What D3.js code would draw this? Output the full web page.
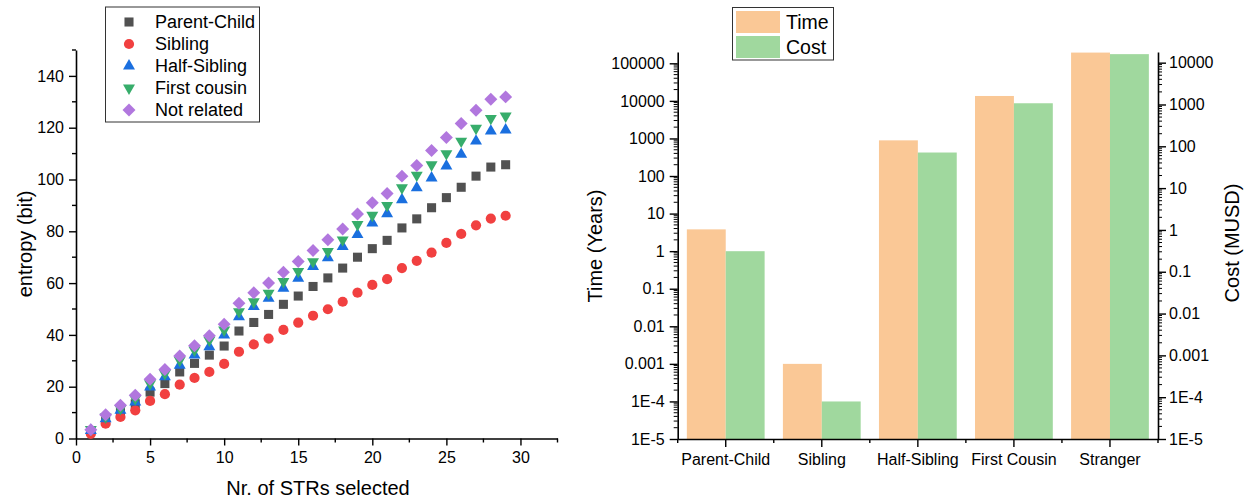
<!DOCTYPE html>
<html>
<head>
<meta charset="utf-8">
<script src="https://cdn.jsdelivr.net/npm/d3@7"></script>
<style>
  body { margin: 0; background: white; }
  svg { font-family: "Liberation Sans", Arial, sans-serif; }
</style>
</head>
<body>
<div id="chart"></div>
<script>
// ---- data: entropy vs number of STRs (left panel) ----
const strCount = [1, 2, 3, 4, 5, 6, 7, 8, 9, 10, 11, 12, 13, 14, 15, 16, 17, 18, 19, 20, 21, 22, 23, 24, 25, 26, 27, 28, 29];
const parentChild = [3, 7, 10, 13.4, 17.9, 21.2, 25.7, 29, 32.2, 35.7, 41.5, 44.8, 47.9, 51.8, 55, 58.7, 62, 65.8, 70, 73.3, 76.5, 81.3, 84.8, 89.1, 93, 97, 101.3, 104.8, 105.7];
const sibling = [1.8, 5.7, 8.3, 10.9, 14.5, 17.1, 20.8, 23.4, 25.7, 28.8, 33.5, 36.3, 38.6, 41.9, 44.7, 47.4, 49.9, 52.8, 56.3, 59.3, 61.5, 65.8, 68.6, 71.8, 75.5, 79, 82.3, 84.9, 86];
const halfSibling = [3.1, 7.6, 10.9, 14.1, 19.9, 23.8, 28.3, 32.2, 35.4, 39.9, 47, 50.9, 54.1, 58, 61.9, 66.4, 69.8, 74.1, 78.7, 83.2, 86.8, 92.2, 96.8, 100.6, 105.2, 109.7, 114.8, 118.7, 119.1];
const firstCousin = [3.5, 8.3, 11.5, 15.4, 21.2, 25.1, 30.2, 34.1, 38, 41.9, 49, 52.8, 56.1, 60.6, 64.5, 68.3, 72.2, 76.7, 82.6, 86.2, 90, 96.8, 101.7, 105.7, 110, 114.8, 119.8, 123.6, 124.5];
const notRelated = [3.4, 9.2, 12.8, 16.7, 22.9, 26.6, 31.9, 35.8, 39.7, 44.1, 52.2, 56.3, 60, 64.2, 68.3, 72.6, 76.7, 80.9, 86.7, 91, 94.6, 101.3, 105.4, 111.2, 116.2, 121.6, 126.7, 131, 131.9];
const xTicksL = [0, 5, 10, 15, 20, 25, 30];
const yTicksL = [0, 20, 40, 60, 80, 100, 120, 140];

// ---- data: time and cost per relation (right panel) ----
const relations = ['Parent-Child', 'Sibling', 'Half-Sibling', 'First Cousin', 'Stranger'];
const timeYears = [3.8, 0.001, 890, 13500, 193000];
const costMUSD = [0.31, 0.000079, 71, 1070, 16000];
const timeTicks = [1e-5, 1e-4, 1e-3, 0.01, 0.1, 1, 10, 100, 1000, 10000, 100000];
const costTicks = [1e-5, 1e-4, 1e-3, 0.01, 0.1, 1, 10, 100, 1000, 10000];

let width = 1247, height = 504;

let svg = d3.select('#chart')
            .append('svg')
            .attr('width', width)
            .attr('height', height)
            .style('background', 'white');

// ================= left panel =================
let xL = d3.scaleLinear().domain([0, 32.5]).range([76, 557.5]);
let yL = d3.scaleLinear().domain([0, 150]).range([438.5, 50]);

let series = [
    {name: 'Parent-Child', values: parentChild, color: '#515151', shape: 'square'},
    {name: 'Sibling', values: sibling, color: '#F14040', shape: 'circle'},
    {name: 'Half-Sibling', values: halfSibling, color: '#1A6FDF', shape: 'up'},
    {name: 'First cousin', values: firstCousin, color: '#37AD6B', shape: 'down'},
    {name: 'Not related', values: notRelated, color: '#B177DE', shape: 'diamond'}
];

// symbol path and rotation for each marker shape
function markerPath(shape) {
    if (shape === 'square') return d3.symbol(d3.symbolSquare, 82)();
    if (shape === 'circle') return d3.symbol(d3.symbolCircle, 82)();
    if (shape === 'up' || shape === 'down') return d3.symbol(d3.symbolTriangle, 62)();
    return d3.symbol(d3.symbolSquare, 84)();
}
function markerRotate(shape) {
    if (shape === 'down') return 180;
    if (shape === 'diamond') return 45;
    return 0;
}

function styleAxis(g) {
    g.selectAll('path.domain').attr('stroke', '#000').attr('stroke-width', 1.6);
    g.selectAll('.tick line').attr('stroke', '#000').attr('stroke-width', 1.4);
    g.selectAll('.tick text').style('font-size', '16px').attr('fill', '#000');
}

// x axis
let xAxisL = svg.append('g')
    .attr('transform', 'translate(0, 438.5)')
    .call(d3.axisBottom(xL).tickValues(xTicksL).tickSize(7).tickSizeOuter(0).tickPadding(6));
styleAxis(xAxisL);
xAxisL.selectAll('.minor')
    .data(xTicksL.map(d => d + 2.5))
    .enter().append('line')
    .attr('x1', d => xL(d)).attr('x2', d => xL(d))
    .attr('y1', 0).attr('y2', 4)
    .attr('stroke', '#000').attr('stroke-width', 1.4);

// y axis
let yAxisL = svg.append('g')
    .attr('transform', 'translate(76, 0)')
    .call(d3.axisLeft(yL).tickValues(yTicksL).tickSize(7).tickSizeOuter(0).tickPadding(5));
styleAxis(yAxisL);
yAxisL.selectAll('.minor')
    .data(yTicksL.map(d => d + 10))
    .enter().append('line')
    .attr('y1', d => yL(d)).attr('y2', d => yL(d))
    .attr('x1', 0).attr('x2', -4)
    .attr('stroke', '#000').attr('stroke-width', 1.4);

// axis labels
svg.append('text')
    .attr('x', 318).attr('y', 495)
    .attr('text-anchor', 'middle')
    .style('font-size', '20px')
    .text('Nr. of STRs selected');

svg.append('text')
    .attr('transform', 'translate(25, 244) rotate(-90)')
    .attr('dy', '0.35em')
    .attr('text-anchor', 'middle')
    .style('font-size', '20px')
    .text('entropy (bit)');

// scatter markers
series.forEach(function(s) {
    svg.append('g').selectAll('path')
        .data(s.values)
        .enter()
        .append('path')
        .attr('d', markerPath(s.shape))
        .attr('transform', (d, i) => `translate(${xL(strCount[i])}, ${yL(d)}) rotate(${markerRotate(s.shape)})`)
        .attr('fill', s.color);
});

// legend
let legend = svg.append('g');
legend.append('rect')
    .attr('x', 105.5).attr('y', 7)
    .attr('width', 154).attr('height', 115)
    .attr('fill', 'white')
    .attr('stroke', '#333').attr('stroke-width', 1);

let legendItem = legend.selectAll('.legend-item')
    .data(series)
    .enter()
    .append('g')
    .attr('transform', (d, i) => `translate(129, ${22 + i * 22})`);

legendItem.append('path')
    .attr('d', d => markerPath(d.shape))
    .attr('transform', d => `rotate(${markerRotate(d.shape)})`)
    .attr('fill', d => d.color);

legendItem.append('text')
    .attr('x', 26).attr('dy', '0.35em')
    .style('font-size', '18px')
    .text(d => d.name);

// ================= right panel =================
let x0 = d3.scaleBand().domain(relations).range([677.7, 1158]);
let x1 = d3.scaleBand().domain(['Time', 'Cost']).range([0, x0.bandwidth()]).paddingOuter(0.235);
let yT = d3.scaleLog().domain([1e-5, 2e5]).range([439, 52]);
let yC = d3.scaleLog().domain([1e-5, 1.8e4]).range([439, 52]);

let barColor = {Time: '#FAC896', Cost: '#A0D89E'};

function logFormat(v) {
    return v < 0.001 ? '1E' + Math.round(Math.log10(v)) : String(v);
}

// minor ticks 2..9 inside each decade
function minorLog(scale) {
    let out = [];
    let dom = scale.domain();
    for (let e = -5; e <= 5; e++) {
        for (let k = 2; k <= 9; k++) {
            let v = k * Math.pow(10, e);
            if (v > dom[0] && v < dom[1]) out.push(v);
        }
    }
    return out;
}

// bars
let groups = svg.append('g').selectAll('g')
    .data(relations)
    .enter().append('g')
    .attr('transform', d => `translate(${x0(d)}, 0)`);

groups.append('rect')
    .attr('x', x1('Time'))
    .attr('width', x1.bandwidth())
    .attr('y', (d, i) => yT(timeYears[i]))
    .attr('height', (d, i) => 439 - yT(timeYears[i]))
    .attr('fill', barColor.Time);

groups.append('rect')
    .attr('x', x1('Cost'))
    .attr('width', x1.bandwidth())
    .attr('y', (d, i) => yC(costMUSD[i]))
    .attr('height', (d, i) => 439 - yC(costMUSD[i]))
    .attr('fill', barColor.Cost);

// bottom axis
let xAxisR = svg.append('g')
    .attr('transform', 'translate(0, 439)')
    .call(d3.axisBottom(x0).tickSize(8).tickSizeOuter(0).tickPadding(7));
styleAxis(xAxisR);
xAxisR.selectAll('.minor')
    .data(relations.map(d => x0(d)).concat([1158]))
    .enter().append('line')
    .attr('x1', d => d).attr('x2', d => d)
    .attr('y1', 0).attr('y2', 4)
    .attr('stroke', '#000').attr('stroke-width', 1.4);

// left log axis (time)
let yAxisT = svg.append('g')
    .attr('transform', 'translate(677.7, 0)')
    .call(d3.axisLeft(yT).tickValues(timeTicks).tickFormat(logFormat).tickSize(8).tickSizeOuter(0).tickPadding(5));
styleAxis(yAxisT);
yAxisT.selectAll('.minor')
    .data(minorLog(yT))
    .enter().append('line')
    .attr('y1', d => yT(d)).attr('y2', d => yT(d))
    .attr('x1', 0).attr('x2', -4)
    .attr('stroke', '#000').attr('stroke-width', 1);

// right log axis (cost)
let yAxisC = svg.append('g')
    .attr('transform', 'translate(1158, 0)')
    .call(d3.axisRight(yC).tickValues(costTicks).tickFormat(logFormat).tickSize(8).tickSizeOuter(0).tickPadding(3));
styleAxis(yAxisC);
yAxisC.selectAll('.minor')
    .data(minorLog(yC))
    .enter().append('line')
    .attr('y1', d => yC(d)).attr('y2', d => yC(d))
    .attr('x1', 0).attr('x2', 4)
    .attr('stroke', '#000').attr('stroke-width', 1);

// axis titles
svg.append('text')
    .attr('transform', 'translate(595, 246) rotate(-90)')
    .attr('dy', '0.35em')
    .attr('text-anchor', 'middle')
    .style('font-size', '20px')
    .text('Time (Years)');

svg.append('text')
    .attr('transform', 'translate(1232, 243) rotate(-90)')
    .attr('dy', '0.35em')
    .attr('text-anchor', 'middle')
    .style('font-size', '20px')
    .text('Cost (MUSD)');

// bar legend
let legendR = svg.append('g');
legendR.append('rect')
    .attr('x', 732.5).attr('y', 7.5)
    .attr('width', 101).attr('height', 52.5)
    .attr('fill', 'white')
    .attr('stroke', '#333').attr('stroke-width', 1);

let legendRItem = legendR.selectAll('.legend-item')
    .data(['Time', 'Cost'])
    .enter().append('g')
    .attr('transform', (d, i) => `translate(736, ${11 + i * 25})`);

legendRItem.append('rect')
    .attr('width', 44).attr('height', 22)
    .attr('fill', d => barColor[d]);

legendRItem.append('text')
    .attr('x', 50).attr('y', 11).attr('dy', '0.35em')
    .style('font-size', '19.5px')
    .text(d => d);
</script>
</body>
</html>
